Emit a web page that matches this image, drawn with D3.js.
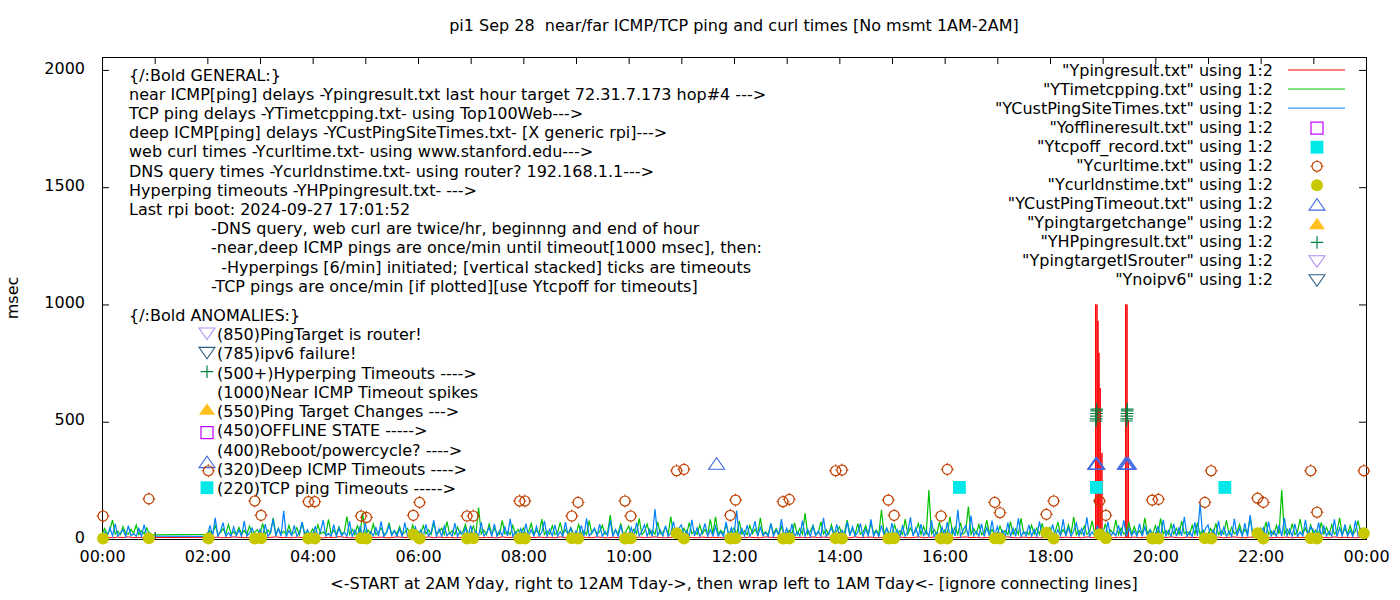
<!DOCTYPE html>
<html>
<head>
<meta charset="utf-8">
<script src="https://cdn.jsdelivr.net/npm/d3@7"></script>
<style>
body { margin: 0; background: #fff; }
svg text { font-family: "DejaVu Sans", sans-serif; font-size: 16px; fill: #000; white-space: pre; }
</style>
</head>
<body>
<svg id="chart" width="1400" height="600"></svg>
<script>
// ---- data (hours of day 0..24, msec) ----
// TCP ping (green) and deep ICMP (blue): one value per 3 min, hour 1 not measured
const tcpPing = [
 22,45,20,38,81,21,33,19,52,24,20,41,23,60,19,35,22,47,20,18,
 null,null,null,null,null,null,null,null,null,null,null,null,null,null,null,null,null,null,null,null,
 20,34,21,58,19,27,44,20,62,22,31,19,49,21,36,20,55,23,29,40,
 21,66,20,38,24,90,19,45,22,33,20,58,21,27,48,19,72,22,35,20,
 43,20,61,23,30,19,84,21,37,20,52,22,29,96,20,41,19,57,24,112,
 20,39,22,64,19,31,47,21,25,70,20,36,22,53,19,28,45,21,60,20,
 33,19,57,22,40,20,68,21,29,46,19,74,23,35,20,51,22,30,62,19,
 24,55,20,134,22,38,19,63,21,44,26,20,79,22,32,19,58,21,41,20,
 47,21,30,66,19,38,22,85,20,34,21,56,19,27,71,22,40,20,49,23,
 20,62,21,35,19,78,23,44,20,31,58,21,26,102,19,39,22,67,20,33,
 55,20,42,22,88,19,31,64,21,37,20,73,22,28,50,19,96,21,34,20,
 21,46,19,70,23,33,20,59,22,41,19,84,21,95,20,37,22,63,19,30,
 48,20,76,21,35,19,57,23,42,20,90,22,31,19,66,21,44,20,53,22,
 20,37,22,69,19,45,21,110,20,33,58,19,26,74,22,40,20,61,21,34,
 52,19,31,80,22,43,20,65,21,28,57,19,71,23,38,20,124,21,46,20,
 22,60,20,35,19,85,21,47,23,31,66,20,54,19,209,22,40,20,73,21,
 38,20,96,22,51,19,70,21,33,138,20,45,22,62,19,29,80,21,40,20,
 20,55,22,36,19,74,21,43,20,88,23,30,19,59,21,47,20,67,22,34,
 49,19,31,72,21,40,20,61,22,95,19,36,21,55,20,28,77,22,44,20,
 21,64,20,38,23,82,19,46,21,30,69,20,53,22,35,19,90,21,41,20,
 57,20,88,22,36,19,63,21,45,20,76,23,32,19,58,21,70,20,39,22,
 20,44,22,67,19,35,21,81,20,50,23,29,62,19,41,21,93,20,37,22,
 46,20,73,21,34,19,58,22,209,20,42,21,66,19,31,85,22,47,20,60,
 21,38,20,71,22,49,19,62,21,33,90,20,44,22,57,19,35,78,21,40
];
const custPing = [
 12,30,11,48,13,64,12,26,40,11,57,14,22,12,45,11,61,13,29,12,
 null,null,null,null,null,null,null,null,null,null,null,null,null,null,null,null,null,null,null,null,
 11,58,13,90,12,34,70,11,27,12,52,14,38,11,76,12,25,47,13,11,
 40,12,63,11,29,85,13,45,12,120,11,36,14,58,12,27,72,11,39,13,
 12,55,11,33,80,13,24,12,61,11,46,14,29,12,75,11,38,13,52,12,
 67,11,30,13,49,12,75,11,26,58,14,35,12,44,11,70,13,28,12,51,
 12,38,11,62,13,29,80,12,43,11,55,14,27,12,68,11,36,13,47,12,
 58,12,33,11,71,13,25,49,12,64,11,37,14,52,12,86,11,30,13,44,
 12,66,11,39,13,54,12,28,77,11,42,14,60,12,31,11,72,13,46,12,
 35,12,58,11,88,13,27,46,12,63,11,34,14,79,12,40,11,55,13,26,
 12,49,11,70,13,32,61,12,42,11,128,14,38,12,57,11,26,74,13,45,
 60,12,36,11,82,13,47,12,29,66,11,40,14,55,12,31,11,73,13,48,
 12,121,11,44,13,59,12,33,76,11,50,14,28,12,67,11,39,13,85,12,
 45,12,64,11,30,13,78,12,41,11,56,14,34,12,90,11,27,48,13,62,
 12,37,11,73,13,52,12,29,66,11,43,14,84,12,35,11,58,13,46,12,
 68,12,40,11,55,13,31,92,12,47,11,63,14,36,12,80,11,28,13,51,
 12,72,11,44,13,124,12,38,57,11,100,14,33,12,65,11,49,13,78,12,
 53,12,36,11,70,13,45,12,88,11,31,14,60,12,42,11,75,13,28,12,
 12,62,11,39,13,84,12,50,11,34,68,14,45,12,92,11,30,13,57,12,
 41,12,73,11,29,13,58,12,80,11,46,14,35,12,66,11,52,13,38,12,
 12,55,11,82,13,37,12,64,11,48,14,95,12,31,11,71,13,152,12,44,
 60,12,39,11,77,13,50,12,33,11,86,14,45,12,68,11,102,13,36,12,
 12,48,11,74,13,35,12,59,11,90,14,42,12,65,11,30,13,82,12,51,
 39,12,70,11,55,13,33,12,84,11,47,14,62,12,36,11,78,13,44,12
];
const stepFast = 0.05; // 3 min

// near ICMP (red): one value per 6 min, plus the timeout spikes
const pingNear = [
 6,7,5,8,6,9,6,7,5,6,
 null,null,null,null,null,null,null,null,null,null,
 7,6,8,5,6,9,7,6,5,8,
 6,5,7,9,6,7,5,8,6,7,
 8,6,5,7,6,10,7,5,6,8,
 5,7,6,8,5,6,9,7,6,5,
 7,6,9,5,8,6,7,5,6,8,
 6,8,5,7,6,5,9,6,7,6,
 5,7,6,8,6,7,5,9,6,7,
 8,6,7,5,9,6,5,7,6,8,
 6,5,8,6,7,9,6,5,7,6,
 7,9,6,5,8,6,7,6,5,8,
 6,7,5,8,6,5,9,7,6,7,
 5,8,6,7,5,9,6,8,7,6,
 7,6,5,9,6,7,8,5,6,7,
 6,8,7,5,6,9,5,7,8,6,
 8,6,5,7,9,6,7,5,6,8,
 6,7,9,6,5,8,6,7,5,6,
 7,5,6,8,6,7,5,9,6,6,
 6,8,5,7,6,6,8,5,7,6,
 5,7,6,9,6,5,8,6,7,5,
 7,6,8,5,7,9,6,5,8,6,
 6,9,5,7,6,8,5,7,6,8,
 8,6,7,5,9,6,7,6,5,7
];
const stepNear = 0.1; // 6 min
const nearSpikeHours = [18.865,18.865,18.865, 18.892,18.892,18.892, 18.911,18.911,18.911, 18.93,18.93,18.93, 18.954,18.954,18.954, 18.986,18.986,18.986, 19.437,19.437,19.437, 19.462,19.462,19.462, 19.49,19.49,19.49];
const nearSpikeMsec  = [6,1000,6, 6,1000,6, 6,930,6, 6,793,6, 6,644,6, 6,367,6, 6,1000,6, 6,1000,6, 6,505,6];

// web curl and DNS query: twice per hour
const curlHours = [0.02,0.89,2.02,2.90,3.02,3.92,4.04,4.92,5.02,5.91,6.03,6.93,7.05,7.93,8.03,8.92,9.04,9.93,10.04,10.91,11.05,11.93,12.03,12.93,13.05,13.93,14.05,14.93,15.04,15.93,16.05,16.95,17.05,17.93,18.07,18.94,19.06,19.94,20.06,20.94,21.06,21.94,22.05,22.95,23.07,23.96];
const curlMsec  = [98,171,291,162,101,159,159,98,92,101,156,98,98,162,162,98,156,162,98,291,297,101,166,159,169,291,294,166,101,98,297,156,112,105,162,162,101,166,169,156,291,174,156,291,114,291];
const dnsMsec   = [2,3,2,2,3,2,2,3,2,19,2,2,3,2,2,3,2,2,3,24,2,2,3,2,2,3,2,2,3,2,2,3,2,27,2,20,3,2,2,3,2,24,2,3,2,24];

// timeouts
const tcpOffHours = [16.28, 18.88, 21.32];
const tcpOffMsec  = [220, 220, 220];
const deepTimeoutHours = [11.67, 18.868, 18.875, 18.882, 18.889, 19.43, 19.45, 19.47, 19.49];
const deepTimeoutMsec  = [322, 322, 322, 322, 322, 322, 322, 322, 322];
const hpHours = [18.872, 18.876, 18.879, 18.882, 18.885, 18.888, 19.452, 19.456, 19.459, 19.462, 19.465, 19.468];
const hpMsec  = [503, 512, 524, 535, 546, 554, 503, 512, 524, 535, 546, 554];

const yTicks = [0, 500, 1000, 1500, 2000];

const titleText = "pi1 Sep 28  near/far ICMP/TCP ping and curl times [No msmt 1AM-2AM]";
const xLabelText = "<-START at 2AM Yday, right to 12AM Tday->, then wrap left to 1AM Tday<- [ignore connecting lines]";

const generalLines = [
  "{/:Bold GENERAL:}",
  "near ICMP[ping] delays -Ypingresult.txt last hour target 72.31.7.173 hop#4 --->",
  "TCP ping delays -YTimetcpping.txt- using Top100Web--->",
  "deep ICMP[ping] delays -YCustPingSiteTimes.txt- [X generic rpi]--->",
  "web curl times -Ycurltime.txt- using www.stanford.edu--->",
  "DNS query times -Ycurldnstime.txt- using router? 192.168.1.1--->",
  "Hyperping timeouts -YHPpingresult.txt- --->",
  "Last rpi boot: 2024-09-27 17:01:52",
  "-DNS query, web curl are twice/hr, beginnng and end of hour",
  "-near,deep ICMP pings are once/min until timeout[1000 msec], then:",
  "  -Hyperpings [6/min] initiated; [vertical stacked] ticks are timeouts",
  "-TCP pings are once/min [if plotted][use Ytcpoff for timeouts]"
];
const anomalyLines = [
  "{/:Bold ANOMALIES:}",
  "(850)PingTarget is router!",
  "(785)ipv6 failure!",
  "(500+)Hyperping Timeouts ---->",
  "(1000)Near ICMP Timeout spikes",
  "(550)Ping Target Changes --->",
  "(450)OFFLINE STATE ----->",
  "(400)Reboot/powercycle? ---->",
  "(320)Deep ICMP Timeouts ---->",
  "(220)TCP ping Timeouts ----->"
];
const anomalySymbols = [null, "isrouter", "noipv6", "hp", null, "target", "offline", null, "deep", "tcpoff"];

const legendLabels = [
  '"Ypingresult.txt" using 1:2',
  '"YTimetcpping.txt" using 1:2',
  '"YCustPingSiteTimes.txt" using 1:2',
  '"Yofflineresult.txt" using 1:2',
  '"Ytcpoff_record.txt" using 1:2',
  '"Ycurltime.txt" using 1:2',
  '"Ycurldnstime.txt" using 1:2',
  '"YCustPingTimeout.txt" using 1:2',
  '"Ypingtargetchange" using 1:2',
  '"YHPpingresult.txt" using 1:2',
  '"YpingtargetISrouter" using 1:2',
  '"Ynoipv6" using 1:2'
];
const legendKinds = ["lineRed", "lineGreen", "lineBlue", "offline", "tcpoff", "curl", "dns", "deep", "target", "hp", "isrouter", "noipv6"];

// ---- drawing ----
const colors = {
  red: "#ff0000", green: "#00c000", blue: "#0080ff",
  offline: "#c000ff", tcpoff: "#00e8e8", curl: "#c04000", dns: "#c8c800",
  deep: "#4169e1", target: "#ffc020", hp: "#008040", isrouter: "#b090f0", noipv6: "#306080"
};

const svg = d3.select('#chart');
const pLeft = 102, pRight = 1366, pTop = 57, pBottom = 539;

const x = d3.scaleLinear().domain([0, 24]).range([pLeft, pRight]);
const y = d3.scaleLinear().domain([0, 2055]).range([pBottom, pTop]);

svg.append('defs').append('clipPath').attr('id', 'plotclip')
  .append('rect').attr('x', pLeft).attr('y', pTop).attr('width', pRight - pLeft).attr('height', pBottom - pTop);

// axes (ticks pointing inward, mirrored)
function styleAxis(g) {
  g.select('.domain').remove();
  g.selectAll('.tick line').attr('stroke', '#000');
}
svg.append('g').attr('transform', `translate(0,${pBottom})`)
  .call(d3.axisBottom(x).tickValues(d3.range(0, 25)).tickSizeInner(-7).tickSizeOuter(0).tickPadding(12)
    .tickFormat(h => h % 2 ? "" : String(h % 24).padStart(2, "0") + ":00"))
  .call(styleAxis);
svg.append('g').attr('transform', `translate(0,${pTop})`)
  .call(d3.axisTop(x).tickValues(d3.range(0, 25)).tickSizeInner(-7).tickSizeOuter(0).tickFormat(""))
  .call(styleAxis);
svg.append('g').attr('transform', `translate(${pLeft},0)`)
  .call(d3.axisLeft(y).tickValues(yTicks).tickSizeInner(-7).tickSizeOuter(0).tickPadding(17).tickFormat(d3.format('d')))
  .call(styleAxis)
  .selectAll('text').attr('y', -2);
svg.append('g').attr('transform', `translate(${pRight},0)`)
  .call(d3.axisRight(y).tickValues(yTicks).tickSizeInner(-7).tickSizeOuter(0).tickFormat(""))
  .call(styleAxis);

svg.append('rect').attr('x', pLeft).attr('y', pTop).attr('width', pRight - pLeft).attr('height', pBottom - pTop)
  .attr('fill', 'none').attr('stroke', '#000').attr('shape-rendering', 'crispEdges');

// titles
svg.append('text').attr('x', (pLeft + pRight) / 2).attr('y', 25).attr('dy', '0.35em')
  .attr('text-anchor', 'middle').text(titleText);
svg.append('text').attr('x', (pLeft + pRight) / 2).attr('y', 583).attr('dy', '0.35em')
  .attr('text-anchor', 'middle').text(xLabelText);
svg.append('text').attr('transform', `translate(12,${(pTop + pBottom) / 2}) rotate(-90)`).attr('dy', '0.35em')
  .attr('text-anchor', 'middle').text('msec');

// symbol painters
function triPath(w, h, down) {
  return down
    ? `M${-w/2},${-h/2}L${w/2},${-h/2}L0,${h/2}Z`
    : `M${-w/2},${h/2}L${w/2},${h/2}L0,${-h/2}Z`;
}
function drawSymbol(g, kind, cx, cy) {
  const s = g.append('g').attr('transform', `translate(${cx},${cy})`);
  if (kind === 'offline') {
    s.append('rect').attr('x', -6).attr('y', -6).attr('width', 12).attr('height', 12)
      .attr('fill', 'none').attr('stroke', colors.offline).attr('stroke-width', 1.2);
  } else if (kind === 'tcpoff') {
    s.append('rect').attr('x', -6.4).attr('y', -6.4).attr('width', 12.8).attr('height', 12.8).attr('fill', colors.tcpoff);
  } else if (kind === 'curl') {
    s.append('circle').attr('r', 5).attr('fill', 'none').attr('stroke', colors.curl).attr('stroke-width', 1.2);
    s.append('path').attr('d', 'M0,-6.5V-4.5M0,4.5V6.5M-6.5,0H-4.5M4.5,0H6.5')
      .attr('stroke', colors.curl).attr('stroke-width', 1);
  } else if (kind === 'dns') {
    s.append('circle').attr('r', 6).attr('fill', colors.dns);
  } else if (kind === 'deep') {
    s.append('path').attr('d', triPath(16, 11.5, false)).attr('fill', 'none').attr('stroke', colors.deep).attr('stroke-width', 1.1);
  } else if (kind === 'target') {
    s.append('path').attr('d', triPath(16, 11.5, false)).attr('fill', colors.target);
  } else if (kind === 'hp') {
    s.append('path').attr('d', 'M-6.3,0H6.3M0,-6.3V6.3').attr('stroke', colors.hp).attr('stroke-width', 1.2);
  } else if (kind === 'isrouter') {
    s.append('path').attr('d', triPath(16, 11.5, true)).attr('fill', 'none').attr('stroke', colors.isrouter).attr('stroke-width', 1.1);
  } else if (kind === 'noipv6') {
    s.append('path').attr('d', triPath(16, 11.5, true)).attr('fill', 'none').attr('stroke', colors.noipv6).attr('stroke-width', 1.1);
  }
}

// annotation labels
const genG = svg.append('g');
generalLines.forEach((t, i) => {
  genG.append('text').attr('x', i < 8 ? 129 : 211).attr('y', 75 + 19.2 * i).attr('dy', '0.35em').text(t);
});
const anoG = svg.append('g');
const anoSymOffset = [0, -0.5, -0.5, -1.2, 0, -2.5, 1.8, 0, -7.5, -1];
anomalyLines.forEach((t, i) => {
  const ry = 315 + 19.3 * i;
  anoG.append('text').attr('x', i === 0 ? 129 : 217).attr('y', ry).attr('dy', '0.35em').text(t);
  if (anomalySymbols[i]) drawSymbol(anoG, anomalySymbols[i], 207, ry + anoSymOffset[i]);
});

// line series
function fastSeries(vals) {
  return vals.map((v, i) => ({ h: i * stepFast, v })).filter(d => d.v !== null);
}
const nearData = pingNear.map((v, i) => ({ h: i * stepNear, v })).filter(d => d.v !== null)
  .concat(nearSpikeHours.map((h, i) => ({ h, v: nearSpikeMsec[i] })))
  .sort((a, b) => a.h - b.h);

const line = d3.line().x(d => x(d.h)).y(d => y(d.v));
const plotG = svg.append('g').attr('clip-path', 'url(#plotclip)');
[[nearData, colors.red, 1], [fastSeries(tcpPing), colors.green, 1.2], [fastSeries(custPing), colors.blue, 1.2]]
  .forEach(([data, c, w]) => {
    plotG.append('path').datum(data).attr('d', line)
      .attr('fill', 'none').attr('stroke', c).attr('stroke-width', w).attr('stroke-linejoin', 'miter');
  });

// point series
const ptG = svg.append('g');
tcpOffHours.forEach((h, i) => drawSymbol(ptG, 'tcpoff', x(h), y(tcpOffMsec[i])));
curlHours.forEach((h, i) => drawSymbol(ptG, 'curl', x(h), y(curlMsec[i])));
curlHours.forEach((h, i) => drawSymbol(ptG, 'dns', x(h), y(dnsMsec[i])));
deepTimeoutHours.forEach((h, i) => drawSymbol(ptG, 'deep', x(h), y(deepTimeoutMsec[i])));
hpHours.forEach((h, i) => drawSymbol(ptG, 'hp', x(h), y(hpMsec[i])));

// legend
const legG = svg.append('g');
legendLabels.forEach((t, i) => {
  const ry = 70 + 19.05 * i;
  legG.append('text').attr('x', 1273).attr('y', ry).attr('dy', '0.35em').attr('text-anchor', 'end').text(t);
  const k = legendKinds[i];
  if (k.startsWith('line')) {
    const c = k === 'lineRed' ? colors.red : k === 'lineGreen' ? colors.green : colors.blue;
    legG.append('line').attr('x1', 1288).attr('x2', 1345).attr('y1', ry).attr('y2', ry)
      .attr('stroke', c).attr('stroke-width', 1);
  } else {
    drawSymbol(legG, k, 1317, ry + 1);
  }
});
</script>
</body>
</html>
